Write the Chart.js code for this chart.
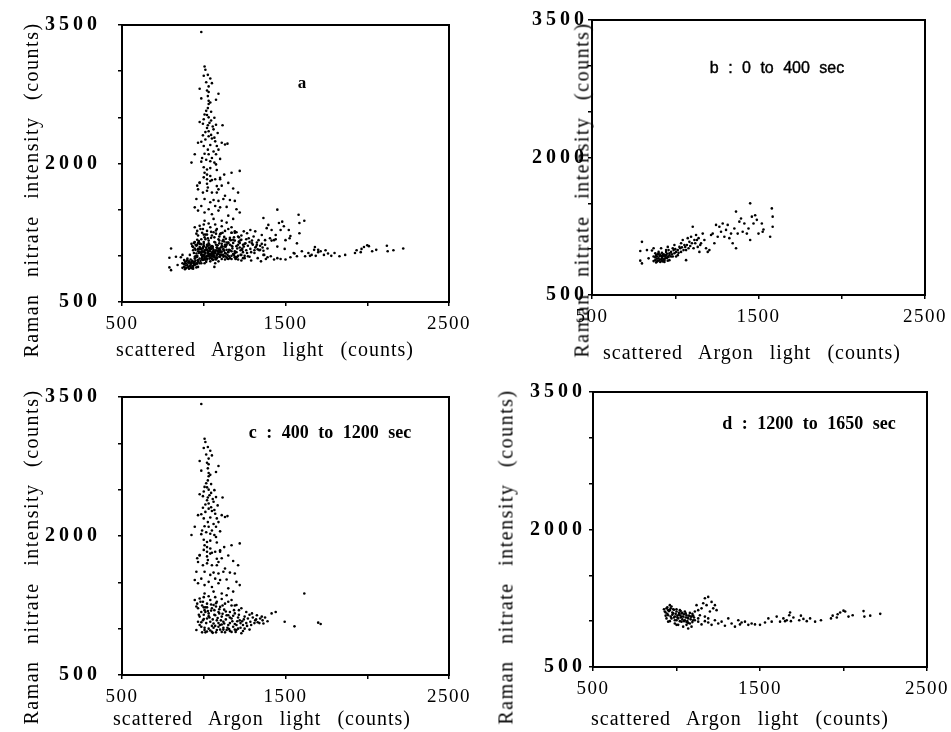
<!DOCTYPE html>
<html><head><meta charset="utf-8">
<script src="https://cdn.jsdelivr.net/npm/chart.js@4"></script>
<style>
html,body{margin:0;padding:0;background:#fff;width:951px;height:732px;overflow:hidden;position:relative}
canvas{position:absolute}
.t{position:absolute;font-family:"Liberation Serif",serif;font-size:20px;color:#000;white-space:nowrap}
.xt{transform:translate(-50%,-50%);word-spacing:10px;letter-spacing:1px}
.yt{transform:translate(-50%,-50%) rotate(-90deg);word-spacing:10px;letter-spacing:1.5px}
.lab{position:absolute;color:#000;white-space:nowrap;transform:translate(-50%,-50%);font-weight:bold}
</style></head><body>
<script>
// ---- data (scattered Argon light, Raman nitrate intensity), in counts ----
const bArgon=[800,790,790,800,830,840,860,870,880,890,900,915,925,935,945,955,965,975,985,995,1005,1015,1025,1035,1045,1055,1065,1065,1075,1085,1095,1105,1115,1125,1135,1145,1155,1165,1175,1185,1195,1205,1215,1225,1235,1245,1255,1265,1275,1285,1295,1305,1315,1325,1335,1345,1355,1365,1365,1375,1385,1395,1405,1415,1430,1440,1450,1450,1460,1470,1480,1490,1500,1520,1525,1530,1570,1580,1585,1585,
870,880,885,890,900,900,905,915,920,925,925,935,940,945,945,955,960,965,965,975,980,985,990,995,1000,1005,1015,1020,1030,1035,1040,1050,1060,1070,1080,1090,1100,1110,1120,1130,1140,1150,
880,890,895,905,910,915,920,930,935,940,950,955,895,910,920,930,950,960,870,885];
const bRaman=[1080,980,875,845,990,900,985,1010,955,920,970,1010,935,880,990,1025,955,920,1010,1045,970,935,1025,1065,1100,1045,990,880,1120,1080,1135,1245,1100,1155,1025,970,1065,1170,1100,1010,970,990,1155,1170,1065,1265,1135,1245,1190,1280,1135,1210,1265,1120,1170,1065,1225,1410,1010,1170,1300,1335,1190,1280,1170,1225,1500,1100,1355,1280,1370,1320,1170,1280,1190,1215,1135,1445,1355,1245,
920,880,935,865,955,900,880,925,960,865,920,935,900,935,970,920,990,880,935,970,945,920,990,955,1000,920,990,960,1010,970,1020,990,1025,1045,1010,1035,1065,1010,1065,1100,1120,1045,
910,895,870,925,860,890,905,890,860,920,905,875,945,940,875,945,950,915,870,855];

const cArgon=[985,1005,1010,1025,1040,1050,1030,975,1030,1090,1025,985,1030,1075,1030,1025,1005,1020,1030,1065,975,1045,995,1025,1075,1115,1020,1060,1030,1085,995,1030,965,985,1010,1050,1070,1110,1130,1145,1040,1080,1090,1005,1030,1075,1050,945,925,985,1040,1065,1075,1020,1170,1220,1005,1020,1040,1100,975,1020,1080,
1000,1015,1020,1040,1015,1045,1000,1035,1055,1010,1045,1065,1000,1025,1060,990,1015,1100,1000,1040,1080,1125,1000,1050,1150,960,1025,1110,1180,
975,1020,1040,1070,1100,965,995,1020,1050,1080,1090,1130,1210,955,1005,1040,1060,1090,1120,1160,1190,945,985,1030,1070,1100,1140,1200,1220,965,1005,1050,1090,1150,1180,1005,1060,1110,1140,
945,975,995,1020,1040,1060,1080,1100,1130,1170,1200,1230,1260,1295,1325,1355,965,985,1005,1030,1050,1070,1090,1110,1140,1170,1190,1220,1250,1285,1315,1345,975,995,1020,1040,1060,1080,1100,1120,1150,1180,1210,1240,985,1005,1030,1050,1080,1110,1140,1170,1200,1230,955,965,1415,1440,1495,1555,1615,1700,1715,1365,
990,1010,1025,1045,1065,1075,1095,1115,1125,1160,1180,1210,1235,1260,1290,1310,1330,1000,1015,1035,1055,1070,1090,1120,1135,1160,1190,1205,975,990,1020,1060,1100,1130,1155,1190,1225,1250,960,1000,1030,1070,1110,1150,1190,1215,
955,970,980,1000,1010,1020,1030,1045,1050,1065,1075,1085,1095,1105,1115,1125,1135,1145,1160,1175,1185,1200,1215,1225,1245,1270,1280,1300,1320,1340,1360,1375,1390,985,1005,1040,1075,1120,1160,1195,1240,1265,1280,1010,1055,1090,1110,1150,1170,1000];
const cRaman=[3425,3050,3015,2960,2920,2870,2835,2810,2775,2755,2730,2705,2680,2690,2645,2600,2530,2525,2500,2495,2450,2465,2430,2415,2420,2415,2385,2370,2350,2330,2305,2295,2225,2235,2260,2270,2240,2225,2205,2215,2200,2190,2150,2105,2100,2100,2060,2100,2010,2020,2025,2010,1990,1935,1900,1920,1900,1880,1865,1845,1790,1780,1755,
2950,2880,2790,2660,2570,2560,2480,2440,2400,2340,2310,2280,2190,2150,2130,2060,2040,2050,1960,1950,1930,1880,1850,1820,1790,1760,1740,1760,1730,
1795,1830,1810,1830,1830,1720,1685,1705,1685,1685,1720,1650,1685,1615,1615,1580,1605,1595,1615,1605,1595,1525,1540,1505,1540,1525,1530,1505,1470,1490,1470,1450,1490,1435,1400,1380,1400,1380,1360,
1310,1325,1290,1270,1310,1255,1290,1235,1270,1310,1255,1220,1180,1165,1145,1130,1220,1180,1200,1165,1220,1145,1180,1130,1145,1110,1165,1090,1130,1075,1090,1110,1130,1090,1110,1075,1055,1090,1040,1075,1040,1020,1000,1040,1020,985,1000,965,985,965,985,965,985,950,985,1075,1165,1180,1075,1025,1380,1065,1050,1055,
1250,1230,1190,1260,1200,1240,1210,1160,1205,1180,1140,1120,1080,1060,1040,1060,1070,1150,1060,1120,1100,1030,1060,1010,1100,1060,1050,1080,1040,960,970,1010,990,960,995,990,1010,1000,1270,1340,1350,1340,1320,1290,1250,1200,
1240,1150,1290,1105,1180,1230,1135,1195,1030,1150,1275,1115,1165,1090,1250,1055,1185,1010,1120,1080,1200,1040,1150,1060,1100,1110,1150,1120,1100,1060,1090,1120,1080,1070,1010,980,960,990,975,965,975,1030,990,960,955,1020,1045,1145,1250,1230];

const dArgon=[930,940,950,960,970,980,990,1000,1010,1020,1030,1040,1050,1060,1070,1080,1090,1100,950,970,990,1010,1030,1050,1070,1090,960,980,940,1000,1020,1040,1060,
1110,1120,1130,1140,1150,1160,1170,1180,1190,1200,1210,1220,1230,1240,1130,1170,1190,
1110,1130,1150,1170,1190,1210,1230,1250,1270,1290,1310,1330,1350,1370,1380,1390,1410,1430,1450,1470,1500,1530,1550,1570,
1600,1620,1640,1650,1660,1675,1680,1685,1700,1735,1745,1760,1780,1800,1830,1865,1925,1935,1960,1965,1980,2000,2010,2030,2055,2120,2125,2160,2220,
945,955,965,975,985,995,1005,1015,1025,1035,1045,1055,1065,1075,1085,1095,935,925,960,1000,1020,1060,1080,1100,
935,945,950,965,975,985,990,1000,1005,1015,1025,1030,1035,1045,1055,1065,1070,1085,1095,1105];
const dRaman=[1105,1140,1065,1120,1160,1085,1050,1105,1030,1065,995,1050,1010,960,1030,975,1050,1010,995,1030,975,960,1085,1105,920,940,1175,1130,1030,1010,1120,940,1065,
1105,1175,1120,1065,1140,1195,1250,1175,1265,1105,1210,1140,1175,1120,1030,1050,1030,
1010,995,965,1000,985,960,1010,975,995,950,1030,975,940,1010,965,985,995,960,975,965,960,985,1030,995,
1050,995,1030,1000,1010,1065,1095,1000,1040,1010,1060,1025,1000,1030,995,1010,1030,1060,1040,1075,1095,1115,1105,1050,1065,1110,1050,1060,1080,
1080,1110,1050,1095,1040,1080,1060,1090,1040,1020,1075,1040,1000,1060,1020,990,1060,1130,1000,960,1000,990,1090,1060,
1095,1150,1120,1140,1070,1125,1010,1130,1040,1070,1110,1050,1090,1000,1085,1040,980,1050,1080,1040];

// panel a shows the whole run (0 to 1650 sec)
const aArgon=bArgon.concat(cArgon,dArgon);
const aRaman=bRaman.concat(cRaman,dRaman);

const xTickLabels=[500,1500,2500];
const yTickLabels=[500,2000,3500];
const panelTexts={a:'a',b:'b : 0 to 400 sec',c:'c : 400 to 1200 sec',d:'d : 1200 to 1650 sec'};
const xTitle='scattered Argon light (counts)';
const yTitle='Raman nitrate intensity (counts)';

// ---- drawing ----
const framePlugin={id:'frame',afterDatasetsDraw(chart){const {ctx,chartArea:a}=chart;ctx.save();ctx.strokeStyle='#000';ctx.lineWidth=2;ctx.strokeRect(a.left,a.top,a.right-a.left,a.bottom-a.top);ctx.restore();}};
const spacingPlugin={id:'spacing',afterLayout(chart){
  [['x','1.5px'],['y','4px']].forEach(([id,sp])=>{const s=chart.scales[id];if(s&&!s._sp){const orig=s.drawLabels.bind(s);s.drawLabels=function(area){const c=this.ctx;const o=c.letterSpacing;c.letterSpacing=sp;orig(area);c.letterSpacing=o||'0px';};s._sp=true;}});
}};

function makePanel(box,xs,ys){
  const padL=115,padT=34,padR=26,padB=50;
  const w=box.R-box.L+padL+padR,h=box.B-box.T+padT+padB;
  const cv=document.createElement('canvas');
  cv.width=w;cv.height=h;cv.style.width=w+'px';cv.style.height=h+'px';
  cv.style.left=(box.L-padL)+'px';cv.style.top=(box.T-padT)+'px';
  document.body.appendChild(cv);
  new Chart(cv,{type:'scatter',
    data:{datasets:[{data:xs.map((x,i)=>({x:x,y:ys[i]})),pointRadius:1.3,pointHoverRadius:1.3,backgroundColor:'#000',borderWidth:0}]},
    options:{responsive:false,animation:false,devicePixelRatio:1,events:[],
      layout:{padding:{top:padT,right:padR,left:0,bottom:0}},
      plugins:{legend:{display:false},tooltip:{enabled:false}},
      scales:{
        x:{type:'linear',min:500,max:2500,afterFit(s){s.height=padB;},
          ticks:{stepSize:500,autoSkip:false,maxRotation:0,padding:box.xpad,color:'#000',font:{family:'Liberation Serif',size:19},callback:v=>xTickLabels.includes(v)?String(v):''},
          grid:{drawOnChartArea:false,drawTicks:true,tickLength:4,color:'#000',lineWidth:1.5},
          border:{display:true,color:'#000',width:2}},
        y:{type:'linear',min:500,max:3500,afterFit(s){s.width=padL;},
          ticks:{stepSize:500,autoSkip:false,padding:box.ypad,color:'#000',font:{family:'Liberation Serif',size:20,weight:'bold'},callback:v=>yTickLabels.includes(v)?String(v):''},
          grid:{drawOnChartArea:false,drawTicks:true,tickLength:4,color:'#000',lineWidth:1.5},
          border:{display:true,color:'#000',width:2}}
      }},
    plugins:[framePlugin,spacingPlugin]});
}
function addText(cls,txt,x,y,style){const d=document.createElement('div');d.className=cls;d.textContent=txt;d.style.left=x+'px';d.style.top=y+'px';if(style)d.style.cssText+=style;document.body.appendChild(d);}

const boxes={
  a:{L:122,T:25,R:449,B:302,ypad:17,xpad:7},
  b:{L:592,T:20,R:925,B:295,ypad:0,xpad:7},
  c:{L:122,T:397,R:449,B:675,ypad:17,xpad:7},
  d:{L:593,T:392,R:927,B:667,ypad:3,xpad:7}
};
makePanel(boxes.a,aArgon,aRaman);
makePanel(boxes.b,bArgon,bRaman);
makePanel(boxes.c,cArgon,cRaman);
makePanel(boxes.d,dArgon,dRaman);

addText('t xt',xTitle,265,349);
addText('t xt',xTitle,752,352);
addText('t xt',xTitle,262,718);
addText('t xt',xTitle,740,718);
addText('t yt',yTitle,31,190);
addText('t yt',yTitle,582,190);
addText('t yt',yTitle,31,557);
addText('t yt',yTitle,506,557);

addText('lab',panelTexts.a,302,83,'font-family:"Liberation Serif",serif;font-size:17px');
addText('lab',panelTexts.b,777,68,'font-family:"Liberation Sans",sans-serif;font-size:16px;font-weight:normal;-webkit-text-stroke:0.4px #000;word-spacing:5px');
addText('lab',panelTexts.c,330,432,'font-family:"Liberation Serif",serif;font-size:18px;word-spacing:5px');
addText('lab',panelTexts.d,809,423,'font-family:"Liberation Serif",serif;font-size:18px;word-spacing:5px');
</script>
</body></html>
